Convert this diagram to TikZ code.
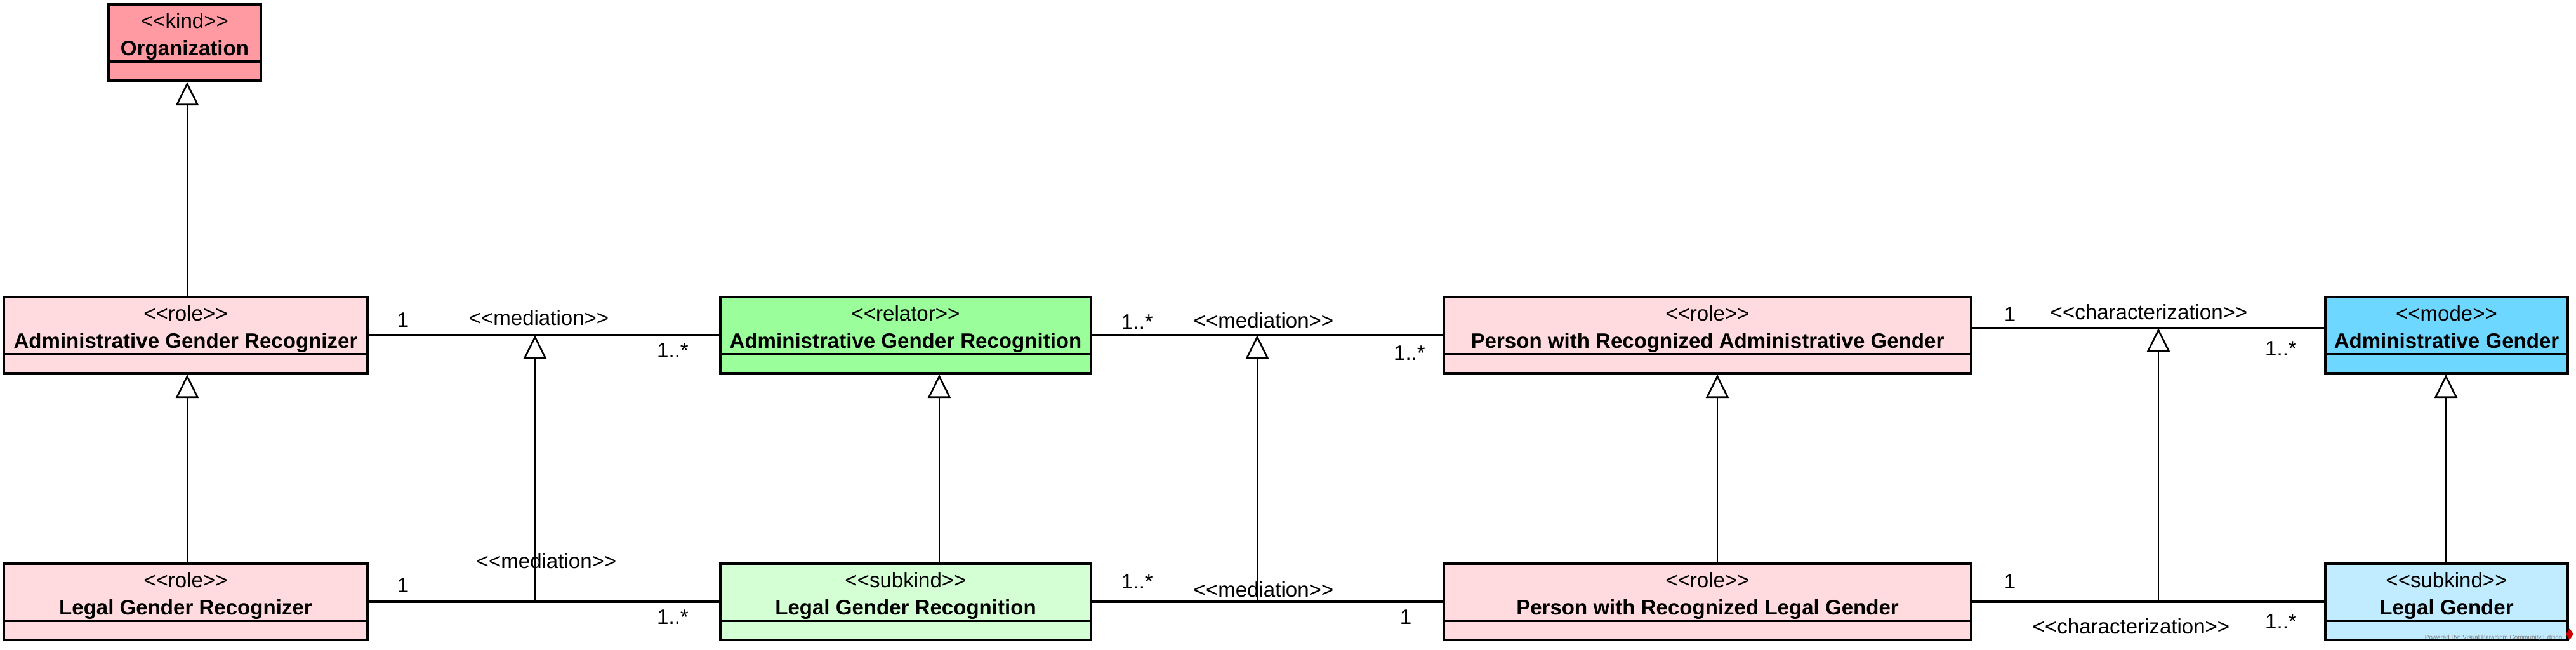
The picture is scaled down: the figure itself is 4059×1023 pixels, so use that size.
\documentclass[tikz,border=0pt]{standalone}
\usepackage{fontspec}
\newfontfamily\umlfont{Liberation Sans}
\usetikzlibrary{arrows.meta}
\definecolor{orgc}{RGB}{255,154,162}
\definecolor{rolec}{RGB}{255,218,222}
\definecolor{relc}{RGB}{154,255,154}
\definecolor{subgc}{RGB}{212,255,212}
\definecolor{modec}{RGB}{110,215,255}
\definecolor{subbc}{RGB}{193,236,255}
\newcommand\umlcls[7]{%
  \node[clsbox, fill=#5, minimum width={(#3-#2)*0.01cm}] (#1) at ({(#2+#3)/2},{#4+60}) {};
  \node[txt, anchor=base] (#1-st) at ({(#2+#3)/2},{#4+37}) {<\kern0pt<#6>\kern0pt>};
  \node[nm, anchor=base] (#1-nm) at ({(#2+#3)/2},{#4+80}) {#7};
  \draw[clsline] (#1.west |- 0,{#4+90}) -- (#1.east |- 0,{#4+90});
}
\newcommand\stx[1]{<\kern0pt<#1>\kern0pt>}
\begin{document}
\begin{tikzpicture}[x=0.01cm,y=-0.01cm,
  clsbox/.style={draw, line width=1.1pt, minimum height=1.2cm, inner sep=0pt},
  clsline/.style={line width=1.1pt},
  txt/.style={font=\umlfont\fontsize{9.4}{11}\selectfont, inner sep=0pt},
  nm/.style={font=\umlfont\bfseries\fontsize{9.4}{11}\selectfont, inner sep=0pt},
  lbl/.style={txt, anchor=base},
  assoc/.style={line width=0.9pt},
  gen/.style={line width=0.75pt, -{Triangle[open, length=0.37cm, width=0.36cm, line width=0.75pt]}}]
\useasboundingbox (0,0) rectangle (4059,1023);

\umlcls{org}{171}{411}{7}{orgc}{kind}{Organization}
\umlcls{agrzr}{6}{579}{468}{rolec}{role}{Administrative Gender Recognizer}
\umlcls{agrn}{1135}{1719}{468}{relc}{relator}{Administrative Gender Recognition}
\umlcls{pwrag}{2275}{3106}{468}{rolec}{role}{Person with Recognized Administrative Gender}
\umlcls{ag}{3664}{4046}{468}{modec}{mode}{Administrative Gender}
\umlcls{lgrzr}{6}{579}{888}{rolec}{role}{Legal Gender Recognizer}
\umlcls{lgrn}{1135}{1719}{888}{subgc}{subkind}{Legal Gender Recognition}
\umlcls{pwrlg}{2275}{3106}{888}{rolec}{role}{Person with Recognized Legal Gender}
\umlcls{lg}{3664}{4046}{888}{subbc}{subkind}{Legal Gender}

% associations, upper row
\draw[assoc] (agrzr.east) -- (agrn.west);
\draw[assoc] (agrn.east) -- (pwrag.west);
\draw[assoc] (pwrag.east |- 0,517) -- (ag.west |- 0,517);
% associations, lower row
\draw[assoc] (lgrzr.east) -- (lgrn.west);
\draw[assoc] (lgrn.east) -- (pwrlg.west);
\draw[assoc] (pwrlg.east) -- (lg.west);

% association generalizations
\coordinate (a1) at (843,528);  \coordinate (b1) at (843,948);
\coordinate (a2) at (1981,528); \coordinate (b2) at (1981,948);
\coordinate (a3) at (3401,517); \coordinate (b3) at (3401,948);
\draw[gen] (b1) -- (a1);
\draw[gen] (b2) -- (a2);
\draw[gen] (b3) -- (a3);

% class generalizations
\draw[gen] (agrzr.north -| 295,0) -- (org.south -| 295,0);
\draw[gen] (lgrzr.north -| 295,0) -- (agrzr.south -| 295,0);
\draw[gen] (lgrn.north -| 1480,0) -- (agrn.south -| 1480,0);
\draw[gen] (pwrlg.north -| 2706,0) -- (pwrag.south -| 2706,0);
\draw[gen] (lg.north -| 3854,0) -- (ag.south -| 3854,0);

% labels, upper row
\node[lbl] (l1) at (635,515) {1};
\node[lbl] (l2) at (849,512) {\stx{mediation}};
\node[lbl] (l3) at (1060,563) {1..*};
\node[lbl] (l4) at (1792,518) {1..*};
\node[lbl] (l5) at (1991,516) {\stx{mediation}};
\node[lbl] (l6) at (2221,567) {1..*};
\node[lbl] (l7) at (3167,506) {1};
\node[lbl] (l8) at (3386,503) {\stx{characterization}};
\node[lbl] (l9) at (3594,560) {1..*};
% labels, lower row
\node[lbl] (m1) at (635,933) {1};
\node[lbl] (m2) at (861,895) {\stx{mediation}};
\node[lbl] (m3) at (1060,983) {1..*};
\node[lbl] (m4) at (1792,927) {1..*};
\node[lbl] (m5) at (1991,940) {\stx{mediation}};
\node[lbl] (m6) at (2215,983) {1};
\node[lbl] (m7) at (3167,927) {1};
\node[lbl] (m8) at (3358,998) {\stx{characterization}};
\node[lbl] (m9) at (3594,990) {1..*};

% watermark
\node[anchor=base east, inner sep=0pt, text=gray, font=\umlfont\fontsize{2.8}{3}\selectfont] (wm) at (4038,1007) {Powered By: Visual Paradigm Community Edition};
\fill[red!80!black] (4049,990) -- (4055,999) -- (4049,1008) -- (4043,999) -- cycle;
\end{tikzpicture}
\end{document}
